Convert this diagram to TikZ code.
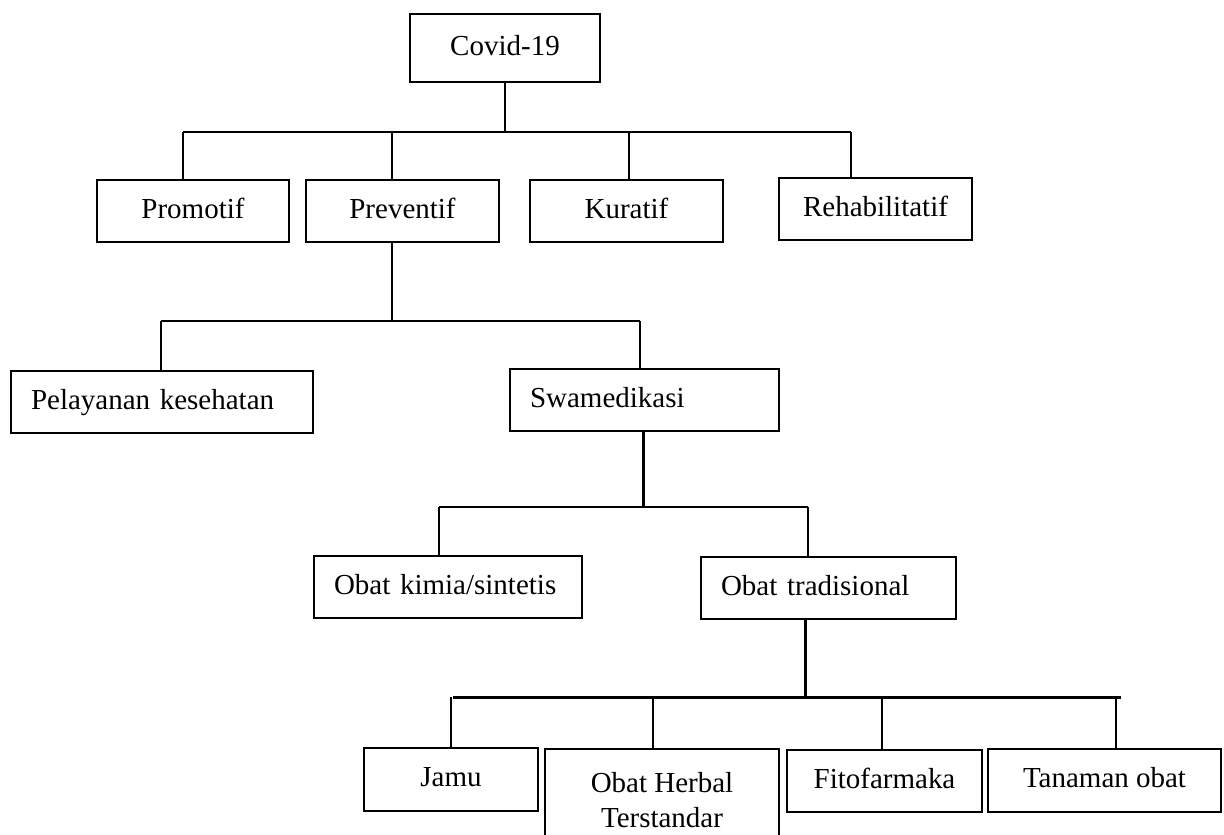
\documentclass[tikz,border=0pt]{standalone}
\usepackage{fontspec}
\setmainfont{Liberation Serif}
\usepackage{tikz}

\begin{document}
\begin{tikzpicture}[x=0.02cm,y=-0.02cm,
 box/.style={draw,line width=1.15pt,minimum height=1.24cm,inner sep=2pt,
  text height=11pt,text depth=3pt,font=\fontsize{16.5pt}{20pt}\selectfont},
 lbox/.style={box,text width=#1,align=left,inner xsep=0.4cm},
 bar/.style={line width=1.7pt},
 link/.style={line width=0.8pt},
 stem/.style={line width=1.7pt}]
\useasboundingbox (0,0) rectangle (1224,835);
\clip (0,0) rectangle (1224,835);
\node[box,minimum width=3.8cm,minimum height=1.36cm] (covid) at (505,48) {Covid-19};
\node[box,minimum width=3.84cm] (promotif) at (193,211) {Promotif};
\node[box,minimum width=3.86cm] (preventif) at (402.5,211) {Preventif};
\node[box,minimum width=3.86cm] (kuratif) at (626.5,211) {Kuratif};
\node[box,minimum width=3.86cm] (rehab) at (875.5,209) {Rehabilitatif};
\node[lbox=5.24cm] (pelayanan) at (162,402) {Pelayanan kesehatan};
\node[lbox=4.58cm] (swamed) at (644.5,400) {Swamedikasi};
\node[lbox=4.56cm] (kimia) at (448,587) {Obat kimia/sintetis};
\node[lbox=4.3cm] (tradisional) at (828.5,588) {Obat tradisional};
\node[box,minimum width=3.48cm,minimum height=1.26cm] (jamu) at (451,779.5) {Jamu};
\node[box,minimum width=4.68cm,minimum height=2.04cm,anchor=north,align=center,
 text height=,text depth=] (herbal) at (662,748) {Obat Herbal\\Terstandar};
\node[box,minimum width=3.9cm] (fito) at (884.5,781) {Fitofarmaka};
\node[box,minimum width=4.66cm,minimum height=1.26cm] (tanaman) at (1104.5,780.5) {Tanaman obat};
\coordinate (b1w) at (183,132);
\coordinate (b1e) at (851,132);
\draw[bar] (b1w) -- (b1e);
\draw[link] (covid.south) -- (covid.south |- b1w);
\foreach \n/\x [count=\i] in {promotif/183,preventif/392,kuratif/629,rehab/851}{
 \coordinate (p\i) at (\x,132);
 \draw[link] (p\i) -- (p\i |- \n.north);
}
\coordinate (b2w) at (161,321);
\coordinate (b2e) at (640,321);
\draw[bar] (b2w) -- (b2e);
\draw[stem] (preventif.south -| p2) -- (p2 |- b2w);
\draw[link] (b2w) -- (b2w |- pelayanan.north);
\draw[link] (b2e) -- (b2e |- swamed.north);
\coordinate (b3w) at (439,507);
\coordinate (b3e) at (808,507);
\coordinate (s3) at (643,507);
\draw[bar] (b3w) -- (b3e);
\draw[stem] (s3 |- swamed.south) -- (s3);
\draw[link] (b3w) -- (b3w |- kimia.north);
\draw[link] (b3e) -- (b3e |- tradisional.north);
\coordinate (b4w) at (453,697);
\coordinate (b4e) at (1121,697);
\coordinate (s4) at (805,697);
\draw[bar] (b4w) -- (b4e);
\draw[stem] (s4 |- tradisional.south) -- (s4);
\foreach \n/\x [count=\i] in {jamu/451,herbal/653,fito/882,tanaman/1116}{
 \coordinate (q\i) at (\x,697);
 \draw[link] (q\i) -- (q\i |- \n.north);
}
\end{tikzpicture}
\end{document}
